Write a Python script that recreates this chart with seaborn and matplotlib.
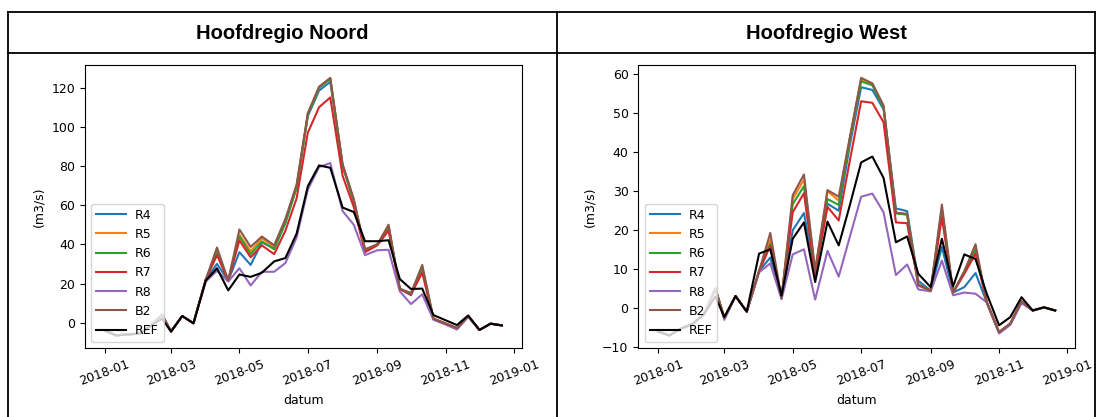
import matplotlib
matplotlib.use("Agg")
import matplotlib.pyplot as plt
import matplotlib.dates as mdates
from matplotlib.lines import Line2D
import pandas as pd
import seaborn as sns

# ten-day (dekad) time stamps for 2018
dates = pd.to_datetime([
    "2018-01-01", "2018-01-11", "2018-01-21", "2018-02-01", "2018-02-11", "2018-02-21",
    "2018-03-01", "2018-03-11", "2018-03-21", "2018-04-01", "2018-04-11", "2018-04-21",
    "2018-05-01", "2018-05-11", "2018-05-21", "2018-06-01", "2018-06-11", "2018-06-21",
    "2018-07-01", "2018-07-11", "2018-07-21", "2018-08-01", "2018-08-11", "2018-08-21",
    "2018-09-01", "2018-09-11", "2018-09-21", "2018-10-01", "2018-10-11", "2018-10-21",
    "2018-11-01", "2018-11-11", "2018-11-21", "2018-12-01", "2018-12-11", "2018-12-21",
])

series_names = ["R4", "R5", "R6", "R7", "R8", "B2", "REF"]
series_colors = ["#1f77b4", "#ff7f0e", "#2ca02c", "#d62728", "#9467bd", "#8c564b", "black"]
panel_titles = ["Hoofdregio Noord", "Hoofdregio West"]
y_label = "(m3/s)"
x_label = "datum"

# --- Hoofdregio Noord (m3/s) ---
noord_r4 = [-4.0, -6.5, -6.0, -5.6, -1.5, 4.0, -4.5, 3.4, -0.3, 22.0, 30.0, 21.5,
            36.0, 29.5, 41.0, 38.0, 51.0, 69.0, 105.5, 118.5, 123.0, 80.0, 62.0, 37.0,
            40.0, 48.5, 17.3, 14.0, 27.5, 2.0, -0.5, -2.8, 3.2, -3.7, -0.5, -1.4]
noord_r5 = [-4.0, -6.5, -6.0, -5.6, -1.5, 4.0, -4.5, 3.4, -0.3, 22.0, 36.5, 21.5,
            45.0, 36.5, 43.0, 39.0, 52.0, 70.0, 106.5, 120.0, 124.8, 80.5, 62.5, 37.0,
            40.0, 49.5, 17.3, 15.0, 28.5, 2.0, -0.5, -2.8, 3.2, -3.7, -0.5, -1.4]
noord_r6 = [-4.0, -6.5, -6.0, -5.6, -1.5, 4.0, -4.5, 3.4, -0.3, 22.0, 36.0, 21.5,
            44.0, 35.0, 41.5, 37.5, 51.0, 69.0, 106.0, 120.0, 124.5, 80.0, 62.0, 37.0,
            40.0, 49.0, 17.3, 15.0, 28.0, 2.0, -0.5, -2.8, 3.2, -3.7, -0.5, -1.4]
noord_r7 = [-4.0, -6.5, -6.0, -5.6, -1.5, 4.0, -4.5, 3.4, -0.3, 22.0, 34.5, 21.5,
            42.0, 33.4, 39.5, 35.0, 47.0, 63.5, 97.0, 110.0, 115.0, 75.0, 59.0, 36.0,
            39.5, 47.0, 17.0, 14.5, 25.5, 2.0, -0.5, -2.8, 3.2, -3.7, -0.5, -1.4]
noord_r8 = [-4.0, -6.5, -6.0, -5.6, -1.5, 4.0, -4.5, 3.4, -0.3, 21.0, 26.5, 21.0,
            27.8, 19.0, 26.0, 26.0, 30.5, 43.5, 68.0, 79.5, 81.5, 57.0, 50.0, 34.5,
            37.0, 37.2, 16.0, 9.5, 14.5, 1.5, -1.0, -3.5, 3.0, -3.7, -0.5, -1.4]
noord_b2 = [-4.0, -6.5, -6.0, -5.6, -1.5, 4.0, -4.5, 3.4, -0.3, 22.0, 38.4, 21.5,
            47.6, 38.7, 44.0, 39.5, 53.0, 70.5, 107.0, 120.5, 125.0, 81.0, 63.0, 37.5,
            40.0, 50.0, 17.3, 15.0, 29.5, 2.0, -0.5, -2.8, 3.2, -3.7, -0.5, -1.4]
noord_ref = [-4.0, -6.5, -6.0, -5.6, -1.5, 2.0, -4.5, 3.4, -0.3, 21.5, 27.8, 16.5,
             24.6, 23.4, 25.5, 31.3, 33.0, 45.5, 69.7, 80.3, 79.1, 58.8, 56.5, 41.6,
             41.6, 42.1, 22.3, 17.2, 17.4, 3.9, 1.2, -1.2, 3.7, -3.7, -0.5, -1.4]

# --- Hoofdregio West (m3/s) ---
west_r4 = [-6.0, -7.0, -5.3, -4.0, -1.5, 5.0, -2.5, 3.1, -0.9, 9.5, 13.0, 2.6,
           20.0, 24.4, 9.0, 26.8, 25.0, 42.0, 56.7, 56.0, 51.0, 25.6, 24.9, 7.0,
           4.5, 15.7, 4.0, 5.4, 9.0, 1.5, -6.2, -4.0, 1.7, -0.6, 0.2, -0.6]
west_r5 = [-6.0, -7.0, -5.3, -4.0, -1.5, 5.0, -2.5, 3.1, -0.9, 9.5, 17.5, 2.6,
           28.0, 33.0, 9.5, 30.0, 27.6, 43.5, 58.7, 57.5, 51.7, 24.5, 24.0, 6.0,
           4.5, 25.5, 4.0, 9.3, 15.5, 1.5, -6.2, -4.0, 1.7, -0.6, 0.2, -0.6]
west_r6 = [-6.0, -7.0, -5.3, -4.0, -1.5, 5.0, -2.5, 3.1, -0.9, 9.5, 16.5, 2.6,
           26.7, 31.3, 9.5, 28.0, 26.5, 43.5, 58.2, 57.2, 51.5, 24.3, 24.0, 6.0,
           4.5, 25.0, 4.0, 9.2, 15.0, 1.5, -6.2, -4.0, 1.7, -0.6, 0.2, -0.6]
west_r7 = [-6.0, -7.0, -5.3, -4.0, -1.5, 5.0, -2.5, 3.1, -0.9, 9.5, 16.0, 2.6,
           24.6, 29.5, 8.5, 26.0, 22.5, 38.0, 53.1, 52.7, 47.7, 22.0, 21.8, 6.0,
           4.5, 23.3, 4.0, 8.8, 14.0, 1.5, -6.2, -4.0, 1.7, -0.6, 0.2, -0.6]
west_r8 = [-6.0, -7.0, -5.3, -4.0, -1.5, 5.0, -3.0, 3.1, -0.9, 9.2, 11.5, 2.3,
           13.8, 15.1, 2.2, 14.7, 8.1, 18.4, 28.6, 29.4, 24.6, 8.5, 11.2, 4.8,
           4.3, 12.2, 3.3, 4.0, 3.7, 1.5, -6.5, -4.3, 1.3, -0.6, 0.2, -0.6]
west_b2 = [-6.0, -7.0, -5.3, -4.0, -1.5, 5.0, -2.5, 3.1, -0.9, 9.5, 19.3, 2.6,
           29.0, 34.3, 9.7, 30.3, 28.6, 44.0, 59.1, 57.7, 52.0, 24.5, 24.2, 5.8,
           4.5, 26.6, 4.0, 9.5, 16.4, 1.5, -6.2, -4.0, 1.7, -0.6, 0.2, -0.6]
west_ref = [-6.0, -7.0, -5.3, -4.0, -1.5, 3.0, -2.3, 3.1, -0.9, 14.0, 15.1, 3.2,
            17.8, 22.0, 6.7, 22.2, 16.1, 26.5, 37.4, 38.9, 33.4, 16.9, 18.4, 8.8,
            5.4, 17.8, 5.6, 13.8, 12.6, 3.7, -4.4, -2.3, 2.8, -0.6, 0.2, -0.6]

panels = [
    [noord_r4, noord_r5, noord_r6, noord_r7, noord_r8, noord_b2, noord_ref],
    [west_r4, west_r5, west_r6, west_r7, west_r8, west_b2, west_ref],
]

W, H = 1101, 417
fig = plt.figure(figsize=(W / 100, H / 100), dpi=100)
fig.patch.set_facecolor("white")


def fx(px):
    return px / W


def fy(py):
    return 1 - py / H


# table grid around the two panels
grid_kw = dict(color="black", linewidth=1.3, transform=fig.transFigure)
fig.add_artist(Line2D([fx(8), fx(1095)], [fy(12), fy(12)], **grid_kw))
fig.add_artist(Line2D([fx(8), fx(1095)], [fy(53), fy(53)], **grid_kw))
for xv in (8, 557, 1095):
    fig.add_artist(Line2D([fx(xv), fx(xv)], [fy(12), fy(417)], **grid_kw))

header_centers = [282, 826]
for title, cx in zip(panel_titles, header_centers):
    fig.text(fx(cx), fy(33.5), title, ha="center", va="center",
             fontsize=14.5, fontweight="bold", family="Liberation Sans")

axes_left = [85, 638.3]
ax_w, ax_top, ax_bot = 436.7, 65, 348.3

for left, series in zip(axes_left, panels):
    ax = fig.add_axes([fx(left), fy(ax_bot), ax_w / W, (ax_bot - ax_top) / H])
    for name, color, values in zip(series_names, series_colors, series):
        sns.lineplot(x=dates, y=values, ax=ax, color=color, label=name,
                     linewidth=1.5)
    ax.xaxis.set_major_locator(mdates.MonthLocator(bymonth=[1, 3, 5, 7, 9, 11]))
    ax.xaxis.set_major_formatter(mdates.DateFormatter("%Y-%m"))
    ax.tick_params(labelsize=9)
    for lbl in ax.get_xticklabels():
        lbl.set_rotation(20)
        lbl.set_ha("center")
    ax.set_xlabel(x_label, fontsize=9)
    ax.set_ylabel(y_label, fontsize=9)
    ax.legend(loc="lower left", fontsize=9, handlelength=2.4, handletextpad=0.7)

fig.savefig("out.png", dpi=100)
